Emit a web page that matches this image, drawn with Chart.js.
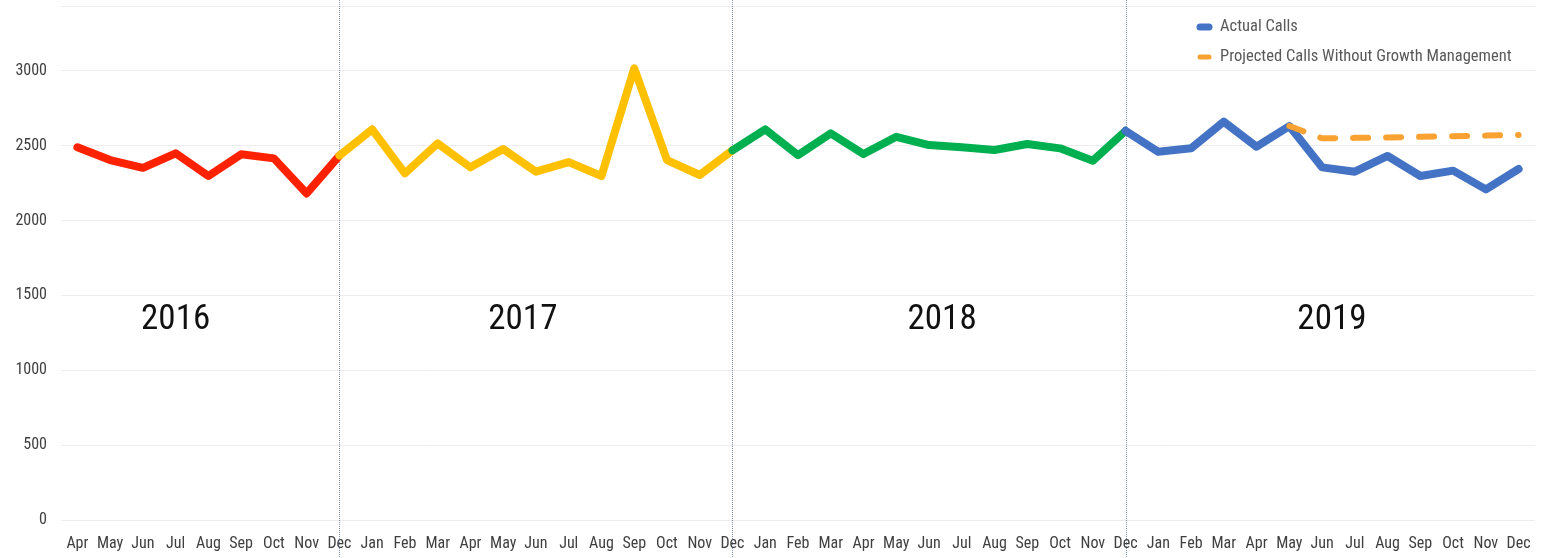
<!DOCTYPE html>
<html>
<head>
<meta charset="utf-8">
<script src="https://cdn.jsdelivr.net/npm/chart.js@4/dist/chart.umd.min.js"></script>
<style>
  html, body { margin: 0; padding: 0; background: #ffffff; }
  #wrap { width: 1554px; height: 558px; position: relative; }
</style>
</head>
<body>
<div id="wrap"><canvas id="c" width="1554" height="558"></canvas></div>
<script>
// ---- data ----
const monthLabels = [
  'Apr','May','Jun','Jul','Aug','Sep','Oct','Nov','Dec',
  'Jan','Feb','Mar','Apr','May','Jun','Jul','Aug','Sep','Oct','Nov','Dec',
  'Jan','Feb','Mar','Apr','May','Jun','Jul','Aug','Sep','Oct','Nov','Dec',
  'Jan','Feb','Mar','Apr','May','Jun','Jul','Aug','Sep','Oct','Nov','Dec'
];
const actualCalls = [
  2490, 2405, 2353, 2450, 2298, 2443, 2416, 2182, 2435,
  2610, 2316, 2516, 2356, 2478, 2327, 2391, 2298, 3017, 2405, 2305, 2470,
  2610, 2438, 2583, 2445, 2560, 2505, 2490, 2472, 2512, 2483, 2400, 2600,
  2460, 2483, 2661, 2494, 2632, 2356, 2327, 2432, 2298, 2334, 2209, 2345
];
const projectedCalls = [
  null, null, null, null, null, null, null, null, null,
  null, null, null, null, null, null, null, null, null, null, null, null,
  null, null, null, null, null, null, null, null, null, null, null, null,
  null, null, null, null, 2632, 2550, 2553, 2556, 2560, 2564, 2568, 2572
];
const yTickValues = [0, 500, 1000, 1500, 2000, 2500, 3000];
const yearNames = ['2016', '2017', '2018', '2019'];
const yearStartIndex = [0, 8, 20, 32];      // index where each year's line segment starts
const seriesNames = ['Actual Calls', 'Projected Calls Without Growth Management'];

// ---- styles / layout ----
const yearColors = ['#FF2200', '#FFC000', '#00B050', '#4472C4'];
const blue = '#4472C4';
const orange = '#F9A232';
const yMax = 3434;
const yearLabelX = [3.0, 13.6, 26.4, 38.3];
const yearLabelY = 1336;
const dividerIndex = [8, 20, 32];
const FONT = "'Liberation Sans Narrow', 'Arial Narrow', 'Roboto Condensed', 'Lato', sans-serif";

function segColor(ctx) {
  const i = ctx.p0DataIndex;
  let c = yearColors[0];
  for (let k = 0; k < yearStartIndex.length; k++) {
    if (i >= yearStartIndex[k]) c = yearColors[k];
  }
  return c;
}

const decorPlugin = {
  id: 'decor',
  beforeDatasetsDraw(chart) {
    const {ctx} = chart;
    const xs = chart.scales.x;
    ctx.save();
    ctx.strokeStyle = '#7F95BA';
    ctx.lineWidth = 1;
    ctx.setLineDash([1, 1]);
    dividerIndex.forEach(i => {
      const x = Math.round(xs.getPixelForValue(i)) + 0.5;
      ctx.beginPath();
      ctx.moveTo(x, 0);
      ctx.lineTo(x, chart.height);
      ctx.stroke();
    });
    ctx.restore();
  },
  afterDraw(chart) {
    const {ctx} = chart;
    const xs = chart.scales.x, ys = chart.scales.y;
    ctx.save();
    // year labels
    ctx.fillStyle = '#111111';
    ctx.font = "35px " + FONT;
    ctx.textAlign = 'center';
    ctx.textBaseline = 'middle';
    yearNames.forEach((t, k) => {
      ctx.fillText(t, xs.getPixelForValue(yearLabelX[k]), ys.getPixelForValue(yearLabelY));
    });
    // legend
    const lx = 1196, ly = [27, 57];
    ctx.font = "16.5px " + FONT;
    ctx.textAlign = 'left';
    ctx.fillStyle = '#595959';
    chart.data.datasets.forEach(ds => {
      const k = seriesNames.indexOf(ds.label);
      const y = ly[k];
      ctx.strokeStyle = k === 0 ? blue : orange;
      ctx.lineCap = 'round';
      ctx.lineWidth = k === 0 ? 7 : 5;
      ctx.beginPath();
      ctx.moveTo(lx + 4, y);
      ctx.lineTo(lx + 13, y);
      ctx.stroke();
      ctx.fillText(ds.label, lx + 24, y);
    });
    ctx.restore();
  }
};

new Chart(document.getElementById('c'), {
  type: 'line',
  data: {
    labels: monthLabels,
    datasets: [
      {
        label: seriesNames[0],
        data: actualCalls,
        borderColor: blue,
        borderWidth: 8,
        borderJoinStyle: 'round',
        borderCapStyle: 'round',
        pointRadius: 0,
        tension: 0,
        order: 1,
        segment: { borderColor: segColor }
      },
      {
        label: seriesNames[1],
        data: projectedCalls,
        borderColor: orange,
        borderWidth: 6,
        borderDash: [15, 18],
        borderCapStyle: 'round',
        pointRadius: 0,
        tension: 0,
        spanGaps: false,
        order: 0
      }
    ]
  },
  options: {
    responsive: false,
    animation: false,
    events: [],
    layout: { padding: { left: 0, right: 19, top: 6, bottom: 0 } },
    plugins: {
      legend: { display: false },
      tooltip: { enabled: false },
      title: { display: false }
    },
    scales: {
      x: {
        type: 'category',
        offset: true,
        afterFit(scale) { scale.height = 38; scale.paddingLeft = 0; scale.paddingRight = 0; },
        grid: { display: false, drawTicks: false },
        border: { display: false },
        ticks: {
          autoSkip: false,
          maxRotation: 0,
          padding: 14,
          color: '#404040',
          font: { family: FONT, size: 16 }
        }
      },
      y: {
        min: 0,
        max: yMax,
        afterBuildTicks(scale) {
          scale.ticks = yTickValues.map(v => ({ value: v })).concat([{ value: yMax }]);
        },
        afterFit(scale) { scale.width = 61; scale.paddingTop = 0; scale.paddingBottom = 0; },
        grid: { color: '#EDEDED', lineWidth: 1, drawTicks: false },
        border: { display: false },
        ticks: {
          padding: 14,
          color: '#404040',
          font: { family: FONT, size: 16 },
          callback: v => (yTickValues.includes(v) ? String(v) : '')
        }
      }
    }
  },
  plugins: [decorPlugin]
});
</script>
</body>
</html>
